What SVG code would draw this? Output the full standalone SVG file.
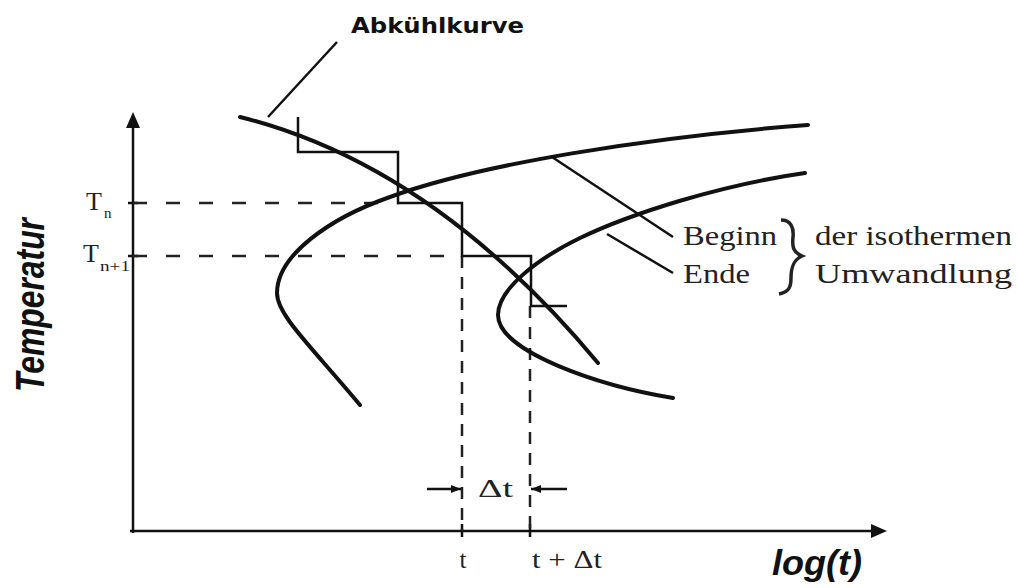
<svg xmlns="http://www.w3.org/2000/svg" width="1017" height="588" viewBox="0 0 1017 588">
<style>
.curve{fill:none;stroke:#111;stroke-width:4;stroke-linecap:round}
.thin{fill:none;stroke:#111;stroke-width:2.5}
.hd{fill:none;stroke:#222;stroke-width:2.5;stroke-dasharray:14 19}
.vd{fill:none;stroke:#222;stroke-width:2.5;stroke-dasharray:12 9}
.axis{fill:none;stroke:#111;stroke-width:2.5}
.serif{font-family:"Liberation Serif","Times New Roman",serif;fill:#222}
.sans{font-family:"Liberation Sans",Arial,sans-serif;font-weight:bold;font-style:italic;fill:#111}
</style>
<defs>
<marker id="ax" markerUnits="userSpaceOnUse" markerWidth="16" markerHeight="14" viewBox="0 0 16 14" refX="0" refY="7" orient="auto"><path d="M0,0 L16,7 L0,14 z" fill="#111"/></marker>
<marker id="sm" markerUnits="userSpaceOnUse" markerWidth="10" markerHeight="8" viewBox="0 0 10 8" refX="10" refY="4" orient="auto"><path d="M0,0 L10,4 L0,8 z" fill="#111"/></marker>
</defs>
<g id="axes">
<line class="axis" x1="133" y1="533" x2="133" y2="128" marker-end="url(#ax)"/>
<line class="axis" x1="130" y1="531" x2="871" y2="531" marker-end="url(#ax)"/>
<line class="axis" x1="128" y1="203" x2="138" y2="203"/>
<line class="axis" x1="128" y1="256" x2="138" y2="256"/>
<line class="axis" x1="462" y1="524" x2="462" y2="537"/>
<line class="axis" x1="530" y1="524" x2="530" y2="537"/>
</g>
<g id="axis-labels">
<text class="sans" transform="translate(44,305) rotate(-90)" text-anchor="middle" font-size="40" textLength="174" lengthAdjust="spacingAndGlyphs">Temperatur</text>
<text class="sans" x="772" y="575" font-size="35" textLength="90" lengthAdjust="spacingAndGlyphs">log(t)</text>
</g>
<g id="connectors">
<path class="hd" d="M133,203 H399"/>
<path class="hd" d="M133,256 H462"/>
<path class="vd" d="M462,256 V531"/>
<path class="vd" d="M530,306 V531"/>
<line class="thin" x1="427" y1="489" x2="461" y2="489" marker-end="url(#sm)" stroke-width="2"/>
<line class="thin" x1="567" y1="489" x2="531" y2="489" marker-end="url(#sm)" stroke-width="2"/>
<line class="thin" x1="268" y1="117" x2="337" y2="42"/>
<line class="thin" x1="552" y1="157" x2="673" y2="237"/>
<line class="thin" x1="607" y1="234" x2="673" y2="273"/>
</g>
<g id="staircase">
<path class="thin" d="M298,117 V152 H398 V203 H462 V256 H531 V306 H567"/>
</g>
<g id="abkuehlkurve">
<path class="curve" d="M240,117 Q433,165 598,363"/>
<text x="351" y="33" font-family="DejaVu Sans,Verdana,sans-serif" font-weight="bold" font-size="22" fill="#111" textLength="173" lengthAdjust="spacingAndGlyphs">Abkühlkurve</text>
</g>
<g id="beginn-curve">
<path class="curve" d="M360,405 C310,345 277,315 277,293 C277,255 330,218 390,197 C480,164 650,137 808,125"/>
</g>
<g id="ende-curve">
<path class="curve" d="M673,398 C600,386 498,352 498,315 C498,290 535,260 580,238 C630,214 720,185 805,173"/>
</g>
<g id="temp-labels">
<text class="serif" x="86" y="210" font-size="26">T</text>
<text class="serif" x="104" y="218" font-size="15">n</text>
<text class="serif" x="83" y="262" font-size="26">T</text>
<text class="serif" x="100" y="271" font-size="14" textLength="30" lengthAdjust="spacingAndGlyphs">n+1</text>
</g>
<g id="legend">
<text class="serif" x="683" y="245" font-size="28" textLength="94" lengthAdjust="spacingAndGlyphs">Beginn</text>
<text class="serif" x="683" y="283" font-size="28" textLength="67" lengthAdjust="spacingAndGlyphs">Ende</text>
<path d="M781,220 C791,220 794,228 793,237 C792,247 793,252 802,256 C793,260 791,268 791,278 C791,287 789,292 779,294" fill="none" stroke="#222" stroke-width="3.5"/>
<text class="serif" x="815" y="245" font-size="28" textLength="197" lengthAdjust="spacingAndGlyphs">der isothermen</text>
<text class="serif" x="815" y="283" font-size="28" textLength="197" lengthAdjust="spacingAndGlyphs">Umwandlung</text>
</g>
<g id="time-labels">
<text class="serif" x="478" y="497" font-size="26" textLength="35" lengthAdjust="spacingAndGlyphs">Δt</text>
<text class="serif" x="463" y="568" font-size="25" text-anchor="middle">t</text>
<text class="serif" x="532" y="568" font-size="25" textLength="70" lengthAdjust="spacingAndGlyphs">t + Δt</text>
</g>
</svg>
